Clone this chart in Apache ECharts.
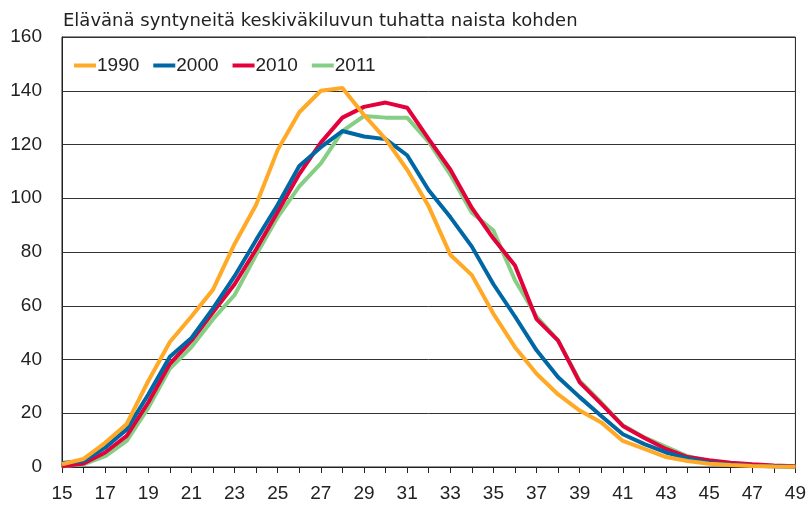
<!DOCTYPE html>
<html><head><meta charset="utf-8">
<script src="https://cdn.jsdelivr.net/npm/echarts@6/dist/echarts.min.js"></script>
<style>html,body{margin:0;padding:0;background:#fff}#c{width:809px;height:506px}</style>
</head><body><div id="c"></div>
<script>
const title = "Elävänä syntyneitä keskiväkiluvun tuhatta naista kohden";
const ages = [15,16,17,18,19,20,21,22,23,24,25,26,27,28,29,30,31,32,33,34,35,36,37,38,39,40,41,42,43,44,45,46,47,48,49];
const s1990 = [1,3,9,16,32,46.5,56,66,83,97.6,118,132,140,141,131,122,110.6,97,79,71.4,57,44.6,34.7,27,21,16.6,9.7,6.7,3.7,2.2,1.2,0.7,0.4,0.2,0.1];
const s2000 = [1.5,2.2,7.2,14,27,41,48,59,71,84.5,97.6,112,119,125,123,122,116,103,93,82,68,56,43.4,33.4,26,19,12.2,8.5,5.4,3.2,1.6,0.9,0.5,0.3,0.1];
const s2010 = [0.3,1.3,5.4,11.6,24,38.4,47,57.6,68,81,95,109,120.7,130,134,135.6,133.7,122,110.7,96.4,85,75,55,47,31.5,23.5,15.3,10.8,6.7,3.7,2.5,1.6,1,0.6,0.3];
const s2011 = [0.3,1,4,9.7,22,36.6,44.6,55,64,79,93,104.4,113,125,130.6,130,130,121,108.8,94.6,88,69.5,56,47,32,24,15.5,11,7.5,4,2.2,1.2,0.7,0.4,0.2];
const names = ["1990","2000","2010","2011"];
const colors = ["#FFA927","#0067A5","#E4003A","#84CF84"];
const all = [s1990,s2000,s2010,s2011];

const chart = echarts.init(document.getElementById('c'), null, {renderer:'canvas'});
const font = "'Liberation Sans', Arial, sans-serif";
chart.setOption({
  animation:false,
  backgroundColor:'#fff',
  title:{text:title,left:58,top:7,textStyle:{fontFamily:"'DejaVu Sans', sans-serif",fontSize:18,fontWeight:'normal',color:'#222'}},
  legend:{data:names,left:69,top:51,itemWidth:22,itemHeight:4,itemGap:14,icon:'rect',
    textStyle:{fontFamily:font,fontSize:19,color:'#222',padding:[0,0,0,-4]}},
  grid:{left:62,right:13,top:37,bottom:39,show:true,borderColor:'#222',borderWidth:1,containLabel:false},
  xAxis:{type:'value',min:15,max:49,interval:2,
    axisLine:{show:true,onZero:false,lineStyle:{color:'#222',width:1}},
    axisTick:{show:true,length:6,lineStyle:{color:'#222'}},
    minorTick:{show:true,splitNumber:2,length:6,lineStyle:{color:'#222'}},
    splitLine:{show:false},
    axisLabel:{fontFamily:font,fontSize:19,color:'#222',margin:17}},
  yAxis:{type:'value',min:0,max:160,interval:20,
    axisLine:{show:true,lineStyle:{color:'#222'}},
    axisTick:{show:false},
    splitLine:{show:true,lineStyle:{color:'#333',width:1}},
    axisLabel:{fontFamily:font,fontSize:19,color:'#222',margin:20}},
  series: names.map((n,i)=>({name:n,type:'line',data:ages.map((a,j)=>[a,all[i][j]]),
    showSymbol:false,symbol:'none',lineStyle:{width:4,color:colors[i]},itemStyle:{color:colors[i]},z:10-i}))
});
</script></body></html>
